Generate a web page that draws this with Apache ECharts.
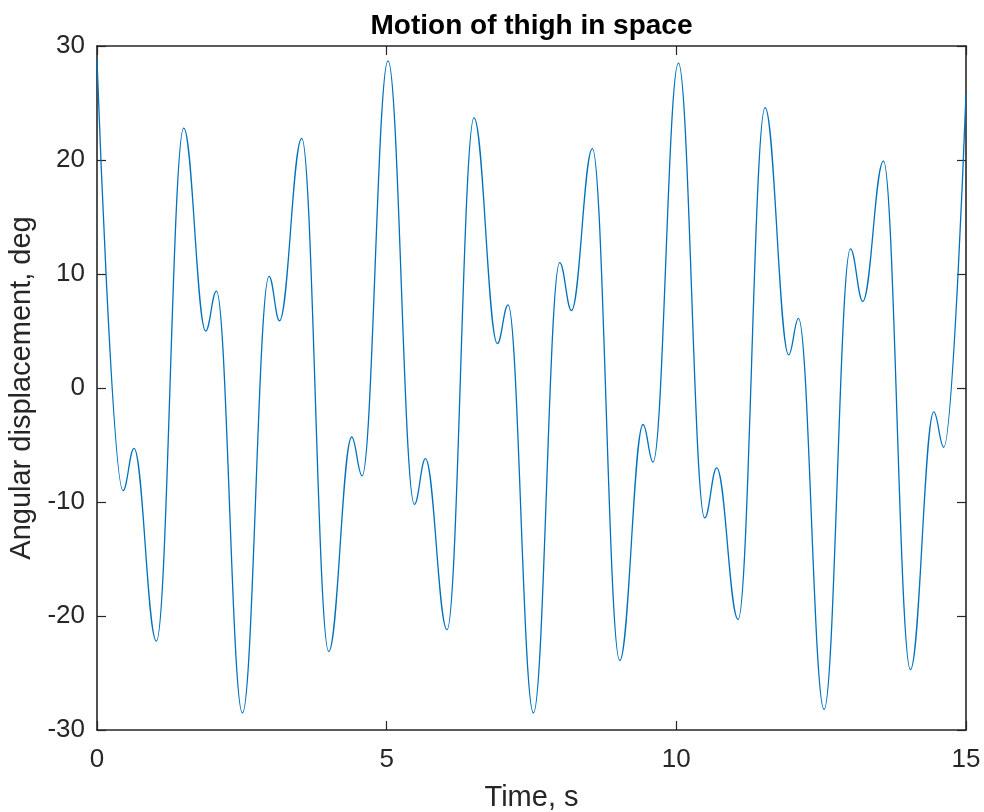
<!DOCTYPE html>
<html>
<head>
<meta charset="utf-8">
<script src="https://cdn.jsdelivr.net/npm/echarts@6/dist/echarts.min.js"></script>
<style>
html,body{margin:0;padding:0;background:#fff;}
#chart{width:984px;height:812px;}
</style>
</head>
<body>
<div id="chart"></div>
<script>
// Time (s) of turning points
const timeS = [0, 0.449, 0.639, 1.025, 1.497, 1.876, 2.061, 2.51, 2.97, 3.15, 3.534, 4.0,
  4.397, 4.575, 5.024, 5.479, 5.669, 6.042, 6.508, 6.911, 7.095, 7.533, 7.987, 8.19,
  8.551, 9.023, 9.426, 9.598, 10.036, 10.49, 10.697, 11.066, 11.532, 11.94, 12.108,
  12.55, 13.006, 13.218, 13.575, 14.041, 14.444, 14.616, 15];
// Angular displacement (deg) at those times
const angleDeg = [28.8, -9.0, -5.3, -22.2, 22.8, 5.0, 8.5, -28.5, 9.8, 5.9, 21.9, -23.1,
  -4.3, -7.7, 28.7, -10.2, -6.2, -21.2, 23.7, 3.9, 7.3, -28.5, 11.0, 6.8,
  21.0, -23.9, -3.2, -6.5, 28.5, -11.4, -7.0, -20.3, 24.6, 2.9, 6.1,
  -28.2, 12.2, 7.6, 19.9, -24.7, -2.1, -5.2, 25.8];
const xTicks = [0, 5, 10, 15];
const yTicks = [-30, -20, -10, 0, 10, 20, 30];
const titleText = 'Motion of thigh in space';
const xLabel = 'Time, s';
const yLabel = 'Angular displacement, deg';

const seriesData = timeS.map((t, i) => [t, angleDeg[i]]);

const FONT = '"Liberation Sans", Arial, Helvetica, sans-serif';
const AX = '#262626';
const gridL = 97, gridR = 18, gridT = 46, gridB = 82;

const chart = echarts.init(document.getElementById('chart'), null, {renderer: 'canvas'});

const axisCommon = {
  axisLine: {show: true, onZero: false, lineStyle: {color: AX, width: 1.6}},
  axisTick: {show: true, inside: true, length: 9, lineStyle: {color: AX, width: 1.2}},
  splitLine: {show: false}
};

chart.setOption({
  animation: false,
  backgroundColor: '#ffffff',
  graphic: [{
    type: 'text',
    x: gridL + (984 - gridL - gridR) / 2,
    y: 26,
    style: {
      text: titleText,
      font: 'bold 28px ' + FONT,
      fill: '#000000',
      align: 'center', verticalAlign: 'middle',
      textAlign: 'center', textVerticalAlign: 'middle'
    }
  }],
  grid: {left: gridL, right: gridR, top: gridT, bottom: gridB, containLabel: false, outerBoundsMode: 'none'},
  xAxis: [
    Object.assign({}, axisCommon, {
      type: 'value', position: 'bottom', min: xTicks[0], max: xTicks[xTicks.length - 1], interval: 5,
      name: xLabel, nameLocation: 'middle', nameGap: 53,
      nameTextStyle: {fontFamily: FONT, fontSize: 29, color: AX},
      axisLabel: {fontFamily: FONT, fontSize: 26, color: AX, margin: 17}
    }),
    Object.assign({}, axisCommon, {
      type: 'value', position: 'top', min: xTicks[0], max: xTicks[xTicks.length - 1], interval: 5,
      axisLabel: {show: false}
    })
  ],
  yAxis: [
    Object.assign({}, axisCommon, {
      type: 'value', position: 'left', min: yTicks[0], max: yTicks[yTicks.length - 1], interval: 10,
      name: yLabel, nameLocation: 'middle', nameGap: 58,
      nameTextStyle: {fontFamily: FONT, fontSize: 29, color: AX},
      axisLabel: {fontFamily: FONT, fontSize: 26, color: AX, margin: 12}
    }),
    Object.assign({}, axisCommon, {
      type: 'value', position: 'right', min: yTicks[0], max: yTicks[yTicks.length - 1], interval: 10,
      axisLabel: {show: false}
    })
  ],
  series: [{
    type: 'line',
    xAxisIndex: 0, yAxisIndex: 0,
    data: seriesData,
    showSymbol: false,
    symbol: 'none',
    smooth: 0.4,
    smoothMonotone: 'x',
    lineStyle: {color: '#0072BD', width: 1.3},
    clip: true
  }]
});
</script>
</body>
</html>
